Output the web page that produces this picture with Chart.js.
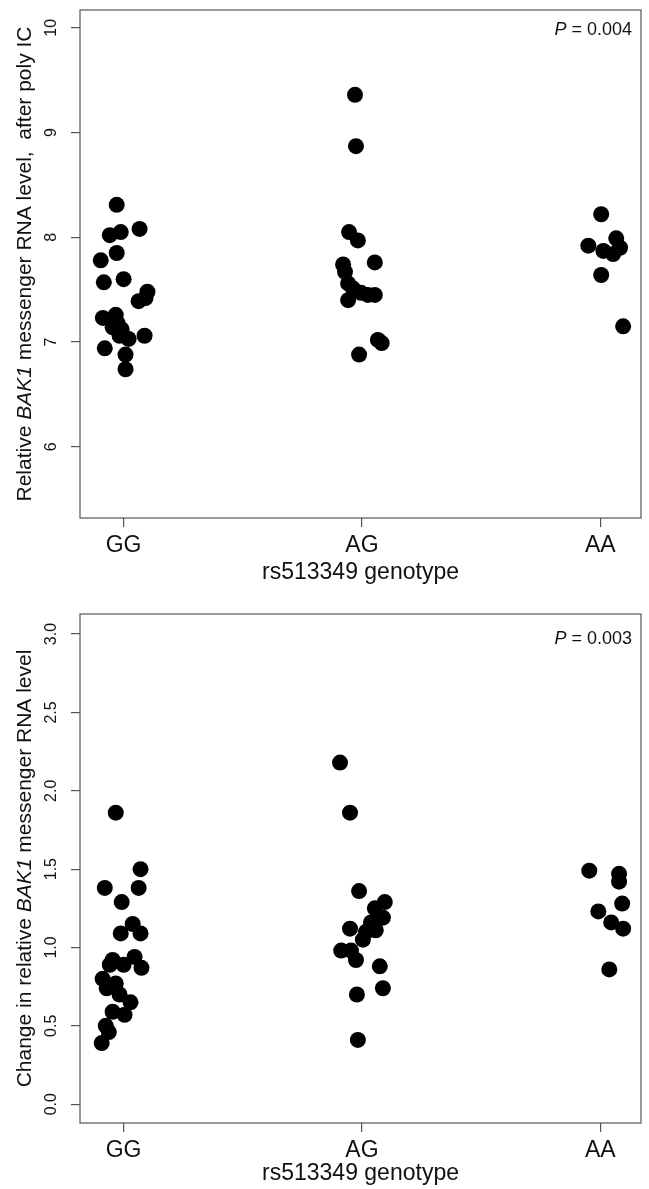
<!DOCTYPE html>
<html>
<head>
<meta charset="utf-8">
<script src="https://cdn.jsdelivr.net/npm/chart.js@4.4.1/dist/chart.umd.min.js"></script>
<style>
  html, body { margin: 0; padding: 0; background: #fff; }
  #wrap { position: relative; width: 649px; height: 1189px; }
  canvas { position: absolute; left: 0; }
  #topChart { top: 0; }
  #bottomChart { top: 595px; }
</style>
</head>
<body>
<div id="wrap">
  <canvas id="topChart" width="649" height="595" style="width:649px;height:595px"></canvas>
  <canvas id="bottomChart" width="649" height="594" style="width:649px;height:594px"></canvas>
</div>
<script>
/*global Chart*/
var genotypes = ["GG", "AG", "AA"];
var groupPos = [1, 2, 3];

// top panel: relative BAK1 level after poly IC (x = jittered group position)
var topGGx = [0.971, 0.942, 0.988, 1.067, 0.971, 0.904, 0.917, 1.000, 1.100, 1.092, 1.063, 0.913, 0.967, 0.975, 0.954, 0.992, 0.983, 1.021, 1.088, 0.921, 1.008, 1.008];
var topGGy = [8.31, 8.02, 8.05, 8.08, 7.85, 7.78, 7.57, 7.60, 7.48, 7.42, 7.39, 7.23, 7.26, 7.18, 7.14, 7.12, 7.06, 7.03, 7.06, 6.94, 6.88, 6.74];
var topAGx = [1.971, 1.975, 1.946, 1.983, 2.054, 1.921, 1.929, 1.942, 1.963, 1.996, 2.025, 2.054, 1.942, 2.067, 2.083, 1.988];
var topAGy = [9.36, 8.87, 8.05, 7.97, 7.76, 7.74, 7.67, 7.56, 7.51, 7.47, 7.45, 7.45, 7.40, 7.02, 6.99, 6.88];
var topAAx = [3.004, 3.067, 2.950, 3.083, 3.013, 3.054, 3.004, 3.096];
var topAAy = [8.22, 7.99, 7.92, 7.90, 7.87, 7.84, 7.64, 7.15];
var topTicks = [6, 7, 8, 9, 10];

// bottom panel: change in relative BAK1 level
var botGGx = [0.967, 1.071, 0.921, 1.063, 0.992, 1.038, 0.988, 1.071, 1.046, 0.954, 1.000, 1.075, 0.942, 0.912, 0.967, 0.929, 0.983, 1.029, 0.954, 1.004, 0.925, 0.938, 0.908];
var botGGy = [1.86, 1.50, 1.38, 1.38, 1.29, 1.15, 1.09, 1.09, 0.94, 0.92, 0.89, 0.87, 0.89, 0.80, 0.77, 0.74, 0.70, 0.65, 0.59, 0.57, 0.50, 0.46, 0.39];
var botAGx = [1.908, 1.950, 1.988, 2.096, 2.054, 2.088, 2.038, 2.058, 1.950, 2.017, 2.004, 1.913, 1.954, 1.975, 2.075, 2.088, 1.979, 1.983];
var botAGy = [2.18, 1.86, 1.36, 1.29, 1.25, 1.19, 1.16, 1.11, 1.12, 1.10, 1.05, 0.98, 0.98, 0.92, 0.88, 0.74, 0.70, 0.41];
var botAAx = [2.954, 3.079, 3.079, 3.092, 2.992, 3.046, 3.096, 3.038];
var botAAy = [1.49, 1.47, 1.42, 1.28, 1.23, 1.16, 1.12, 0.86];
var botTicks = [0, 0.5, 1, 1.5, 2, 2.5, 3];

var FONT = '"Liberation Sans", Arial, Helvetica, sans-serif';
var AXIS_COL = "#555";
var TEXT_COL = "#111";

function pts(xs, ys) {
    return xs.map(function (x, i) { return {x: x, y: ys[i]}; });
}

function ds(xs, ys) {
    return {
        data: pts(xs, ys),
        backgroundColor: "#000",
        borderWidth: 0,
        pointRadius: 8,
        pointHoverRadius: 8
    };
}

function richText(ctx, parts, size, cx, cy, rotate, align) {
    ctx.save();
    ctx.translate(cx, cy);
    if (rotate) ctx.rotate(-Math.PI / 2);
    var widths = parts.map(function (p) {
        ctx.font = (p.i ? "italic " : "") + size + "px " + FONT;
        return ctx.measureText(p.t).width;
    });
    var total = widths.reduce(function (a, b) { return a + b; }, 0);
    var x = align === "right" ? -total : -total / 2;
    ctx.textBaseline = "middle";
    ctx.textAlign = "left";
    ctx.fillStyle = TEXT_COL;
    parts.forEach(function (p, k) {
        ctx.font = (p.i ? "italic " : "") + size + "px " + FONT;
        ctx.fillText(p.t, x, 0);
        x += widths[k];
    });
    ctx.restore();
}

// box, rotated y tick labels, y title and P value
var framePlugin = {
    id: "frame",
    afterDraw: function (chart, args, opts) {
        var ctx = chart.ctx, a = chart.chartArea, ys = chart.scales.y;
        ctx.save();
        ctx.strokeStyle = AXIS_COL;
        ctx.lineWidth = 1.2;
        ctx.strokeRect(a.left, a.top, a.right - a.left, a.bottom - a.top);
        ctx.restore();
        ys.ticks.forEach(function (t) {
            richText(ctx, [{t: opts.fmt(t.value)}], 16, 52, ys.getPixelForValue(t.value), true, "center");
        });
        richText(ctx, opts.yTitle, 21, 25, (a.top + a.bottom) / 2, true, "center");
        richText(ctx, [{t: "P", i: true}, {t: " = " + opts.p}], 18, a.right - 9, a.top + opts.pOffset, false, "right");
    }
};

function makeOptions(yMin, yMax, yTicks, padTop, padRight, xHeight, titlePad, frame) {
    return {
        responsive: false,
        animation: false,
        events: [],
        layout: {padding: {top: padTop, right: padRight, left: 0, bottom: 0}},
        plugins: {legend: {display: false}, tooltip: {enabled: false}, frame: frame},
        scales: {
            x: {
                type: "linear",
                min: 0.817,
                max: 3.171,
                afterBuildTicks: function (s) { s.ticks = groupPos.map(function (v) { return {value: v}; }); },
                afterFit: function (s) { s.height = xHeight; },
                ticks: {
                    padding: 5,
                    color: TEXT_COL,
                    font: {family: FONT, size: 23},
                    maxRotation: 0,
                    callback: function (v, i) { return genotypes[i]; }
                },
                grid: {drawOnChartArea: false, drawTicks: true, tickLength: 9, color: AXIS_COL, lineWidth: 1.2},
                border: {display: false},
                title: {display: true, text: "rs513349 genotype", color: TEXT_COL, font: {family: FONT, size: 23}, padding: {top: 0, bottom: titlePad}}
            },
            y: {
                type: "linear",
                min: yMin,
                max: yMax,
                afterBuildTicks: function (s) { s.ticks = yTicks.map(function (v) { return {value: v}; }); },
                afterFit: function (s) { s.width = 80; },
                ticks: {display: false},
                grid: {drawOnChartArea: false, drawTicks: true, tickLength: 9, color: AXIS_COL, lineWidth: 1.2},
                border: {display: false}
            }
        }
    };
}

var ctx1 = document.getElementById("topChart").getContext("2d");
new Chart(ctx1, {
    type: "scatter",
    data: {datasets: [ds(topGGx, topGGy), ds(topAGx, topAGy), ds(topAAx, topAAy)]},
    options: makeOptions(5.32, 10.17, topTicks, 10, 4, 77, 9, {
        fmt: function (v) { return String(v); },
        yTitle: [{t: "Relative "}, {t: "BAK1", i: true}, {t: " messenger RNA level,  after poly IC"}],
        p: "0.004",
        pOffset: 20
    }),
    plugins: [framePlugin]
});

var ctx2 = document.getElementById("bottomChart").getContext("2d");
new Chart(ctx2, {
    type: "scatter",
    data: {datasets: [ds(botGGx, botGGy), ds(botAGx, botAGy), ds(botAAx, botAAy)]},
    options: makeOptions(-0.12, 3.128, botTicks, 19, 3, 66, 2, {
        fmt: function (v) { return v.toFixed(1); },
        yTitle: [{t: "Change in relative "}, {t: "BAK1", i: true}, {t: " messenger RNA level"}],
        p: "0.003",
        pOffset: 25
    }),
    plugins: [framePlugin]
});
</script>
</body>
</html>
